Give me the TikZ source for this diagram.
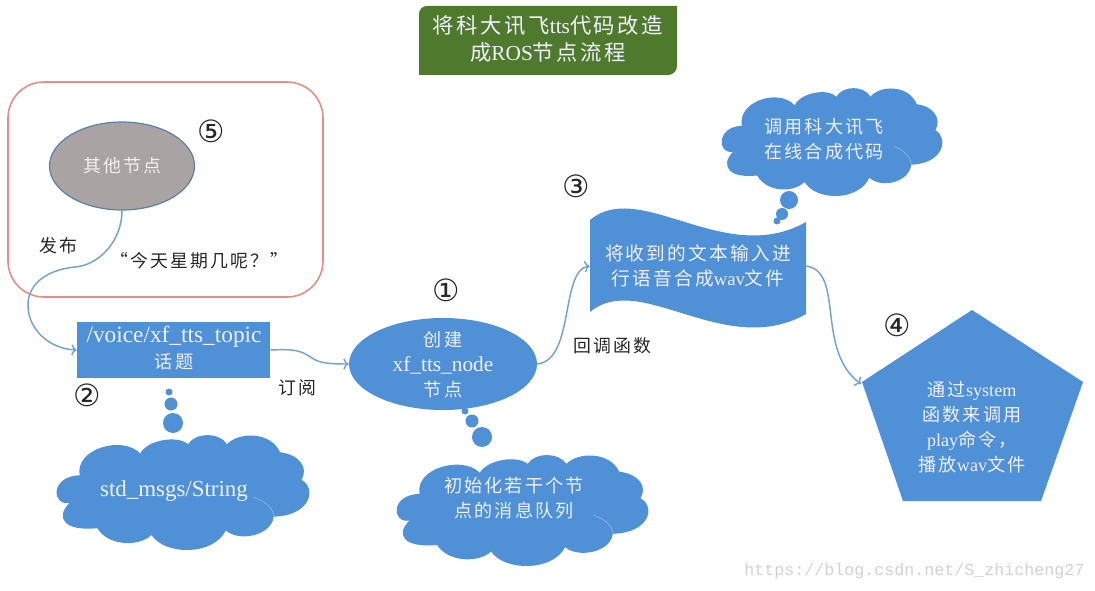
\documentclass[tikz,border=0pt]{standalone}
\usepackage{fontspec}
\setmainfont{Liberation Serif}
\setmonofont{Liberation Mono}
\newfontfamily\cjk[LetterSpace=12]{Noto Sans CJK SC}
\newfontfamily\circled{DejaVu Sans}
\usetikzlibrary{arrows,arrows.meta,calc,shapes.geometric}
\definecolor{boxblue}{HTML}{4F90D6}
\definecolor{flowblue}{HTML}{6FA3D3}
\definecolor{titlegreen}{HTML}{4F7A2D}
\definecolor{framered}{HTML}{E98C82}
\definecolor{othergrey}{HTML}{A9A3A3}
\newcommand{\zh}[1]{{\cjk #1}}
\tikzset{
  flow/.style={->, flowblue, line width=1.1pt},
  onblue/.style={text=white!94!blue, align=center, inner sep=0pt, font=\fontsize{13.6pt}{18.6pt}\selectfont},
  plain/.style={text=black!85, align=center, inner sep=0pt, font=\fontsize{13.4pt}{15pt}\selectfont},
  mark number/.style={text=black!85, inner sep=0pt, font=\circled\fontsize{23pt}{23pt}\selectfont},
  bubble/.style={circle, fill=boxblue, inner sep=0pt},
}
% cloud outline in a unit box, clockwise from the left cusp
\newcommand{\cloudshape}[4]{
  \begin{scope}[shift={(#1,#2)}, x=#3*0.75pt, y=-#4*0.75pt]
    \fill[boxblue] (.09,.35) .. controls (.07,.12) and (.26,.0) .. (.33,.16)
      .. controls (.36,.04) and (.48,.0) .. (.52,.08)
      .. controls (.55,-.025) and (.645,-.025) .. (.675,.08)
      .. controls (.72,-.03) and (.85,-.03) .. (.885,.15)
      .. controls (.96,.17) and (1.0,.28) .. (.97,.39)
      .. controls (1.03,.46) and (1.01,.70) .. (.86,.71)
      .. controls (.85,.88) and (.72,.93) .. (.67,.83)
      .. controls (.62,1.05) and (.43,1.05) .. (.375,.87)
      .. controls (.32,.98) and (.2,.96) .. (.16,.81)
      .. controls (.03,.84) and (-.01,.72) .. (.05,.59)
      .. controls (-.02,.62) and (-.03,.36) .. (.09,.35) -- cycle;
    \draw[white!30!boxblue, line width=0.6pt] (.86,.71) .. controls (.86,.63) and (.82,.57) .. (.78,.54);
  \end{scope}
}
\begin{document}
\begin{tikzpicture}[x=0.75pt, y=-0.75pt]
  \useasboundingbox (0,0) rectangle (1095,591);

  % Title
  \fill[titlegreen] (419,75) -- (419,14) to[out=90, in=180] (427,6) -- (677,6) -- (677,66)
    to[out=-90, in=0] (668,75) -- cycle;
  \node[onblue, font=\fontsize{16pt}{19.6pt}\selectfont] (title) at (548,39)
    {\zh{将科大讯飞}tts\zh{代码改造}\\\zh{成}ROS\zh{节点流程}};

  % Publisher frame
  \draw[framered, line width=1.2pt, rounded corners=27pt] (8,82) rectangle (323,297);
  \node[ellipse, draw=black!20!flowblue, fill=othergrey, line width=0.9pt, minimum width=145*0.75pt,
    minimum height=88*0.75pt, inner sep=0pt, text=white!85!othergrey, font=\fontsize{13.4pt}{15pt}\selectfont] (other) at (122,166) {\zh{其他节点}};
  \node[mark number] (mark5) at (211,131) {⑤};
  \node[plain] (publish) at (58,246) {\zh{发布}};
  \node[plain] (sentence) at (199,261) {\zh{“今天星期几呢？”}};

  % Topic
  \node[fill=boxblue, minimum width=193*0.75pt, minimum height=56*0.75pt, inner sep=0pt] (topic) at (173.5,350) {};
  \node[onblue, font=\fontsize{17.5pt}{17.5pt}\selectfont] (topictext) at (174,337) {/voice/xf\_tts\_topic};
  \node[onblue] (topicsub) at (174,362) {\zh{话题}};
  \node[mark number] (mark2) at (87,395) {②};

  % Node
  \node[ellipse, fill=boxblue, minimum width=188*0.75pt, minimum height=92*0.75pt, inner sep=0pt] (create) at (443,364) {};
  \node[onblue] (createa) at (443,340) {\zh{创建}};
  \node[onblue, font=\fontsize{16pt}{16pt}\selectfont] (createb) at (443,365) {xf\_tts\_node};
  \node[onblue] (createc) at (443,390) {\zh{节点}};
  \node[mark number] (mark1) at (446,290) {①};
  \node[plain] (subscribe) at (297,388) {\zh{订阅}};
  \node[plain] (callback) at (612,346) {\zh{回调函数}};

  % Wave
  \fill[boxblue] (590,220) .. controls (640,178) and (725,268) .. (806,222) -- (806,314)
    .. controls (725,360) and (640,270) .. (590,312) -- cycle;
  \node[onblue, font=\fontsize{14pt}{18.6pt}\selectfont, minimum width=216*0.75pt, minimum height=92*0.75pt] (wave) at (698,266)
    {\zh{将收到的文本输入进}\\\zh{行语音合成}wav\zh{文件}};
  \node[mark number] (mark3) at (576,186) {③};

  % Pentagon
  \fill[boxblue] (972,310) -- (1083,382) -- (1041,501) -- (903,501) -- (862,382) -- cycle;
  \coordinate (pentleft) at (861,384);
  \node[onblue] (pent) at (972,427)
    {\zh{通过}system\\\zh{函数来调用}\\play\zh{命令，}\\\zh{播放}wav\zh{文件}};
  \node[mark number] (mark4) at (897,325) {④};

  % Clouds
  \cloudshape{57}{435}{252}{115}
  \node[onblue, font=\fontsize{17.2pt}{17.2pt}\selectfont] (stdmsg) at (174,491) {std\_msgs/String};
  \cloudshape{397}{455}{251}{111}
  \node[onblue] (queue) at (514,498) {\zh{初始化若干个节}\\\zh{点的消息队列}};
  \cloudshape{722}{88}{220}{108}
  \node[onblue] (online) at (824,139) {\zh{调用科大讯飞}\\\zh{在线合成代码}};

  % Thought bubbles
  \foreach \x/\y/\r/\name in {169/392/3.5/a, 171/404/6.5/b, 173/423/10/c,
      465/411/3.5/d, 472/421/6.5/e, 482/437/10/f,
      789/200/9/g, 782/214/6/h, 777/221/3.5/i} {
    \node[bubble, minimum size=2*\r*0.75pt] (bubble\name) at (\x,\y) {};
  }

  % Connectors
  \draw[flow] (other.south) .. controls (122,240) and (100,265) .. (75,267)
    .. controls (45,270) and (28,285) .. (28,305) .. controls (28,330) and (50,349) .. (topic.west);
  \draw[flow] (topic.east) .. controls (295,349) and (300,350) .. (312,358) .. controls (320,364) and (335,364) .. (create.west);
  \draw[flow] (create.east) .. controls (575,360) and (560,270) .. (wave.west);
  \draw[flow] (wave.east) .. controls (845,272) and (815,350) .. (pentleft);

  % Watermark
  \node[text=black!18, inner sep=0pt, font=\ttfamily\fontsize{12.5pt}{14pt}\selectfont] (mark) at (914.5,571) {https://blog.csdn.net/S\_zhicheng27};
\end{tikzpicture}
\end{document}
